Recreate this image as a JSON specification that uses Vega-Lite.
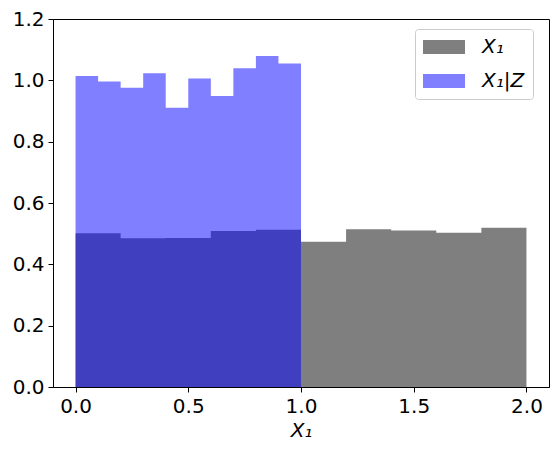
{
  "$schema": "https://vega.github.io/schema/vega-lite/v6.json",
  "width": 496,
  "height": 368,
  "autosize": {"type": "none"},
  "padding": {"left": 53, "top": 19, "right": 9, "bottom": 69},
  "background": "white",
  "config": {
    "view": {"stroke": "black", "strokeWidth": 1},
    "axis": {
      "grid": false,
      "domainColor": "black",
      "tickColor": "black",
      "tickSize": 5,
      "labelFont": "DejaVu Sans",
      "labelFontSize": 20,
      "labelColor": "black",
      "labelPadding": 4,
      "titleFont": "DejaVu Sans",
      "titleFontSize": 20,
      "titleFontWeight": "normal",
      "titleFontStyle": "italic",
      "titleColor": "black"
    }
  },
  "data": {
    "values": [
      {"s": "X₁", "x0": 0.0, "x1": 0.2, "y": 0.501},
      {"s": "X₁", "x0": 0.2, "x1": 0.4, "y": 0.485},
      {"s": "X₁", "x0": 0.4, "x1": 0.6, "y": 0.486},
      {"s": "X₁", "x0": 0.6, "x1": 0.8, "y": 0.509},
      {"s": "X₁", "x0": 0.8, "x1": 1.0, "y": 0.513},
      {"s": "X₁", "x0": 1.0, "x1": 1.2, "y": 0.474},
      {"s": "X₁", "x0": 1.2, "x1": 1.4, "y": 0.514},
      {"s": "X₁", "x0": 1.4, "x1": 1.6, "y": 0.510},
      {"s": "X₁", "x0": 1.6, "x1": 1.8, "y": 0.503},
      {"s": "X₁", "x0": 1.8, "x1": 2.0, "y": 0.519},
      {"s": "X₁|Z", "x0": 0.0, "x1": 0.1, "y": 1.014},
      {"s": "X₁|Z", "x0": 0.1, "x1": 0.2, "y": 0.996},
      {"s": "X₁|Z", "x0": 0.2, "x1": 0.3, "y": 0.976},
      {"s": "X₁|Z", "x0": 0.3, "x1": 0.4, "y": 1.023},
      {"s": "X₁|Z", "x0": 0.4, "x1": 0.5, "y": 0.911},
      {"s": "X₁|Z", "x0": 0.5, "x1": 0.6, "y": 1.006},
      {"s": "X₁|Z", "x0": 0.6, "x1": 0.7, "y": 0.949},
      {"s": "X₁|Z", "x0": 0.7, "x1": 0.8, "y": 1.039},
      {"s": "X₁|Z", "x0": 0.8, "x1": 0.9, "y": 1.079},
      {"s": "X₁|Z", "x0": 0.9, "x1": 1.0, "y": 1.055}
    ]
  },
  "transform": [
    {"fold": ["x0", "x1"], "as": ["edge", "xv"]}
  ],
  "mark": {"type": "area", "opacity": 0.5, "strokeWidth": 0, "interpolate": "linear"},
  "encoding": {
    "x": {
      "field": "xv",
      "type": "quantitative",
      "scale": {"domain": [-0.1, 2.1], "nice": false, "zero": false},
      "axis": {"values": [0, 0.5, 1, 1.5, 2], "format": ".1f", "title": "X₁", "titlePadding": 4}
    },
    "y": {
      "field": "y",
      "type": "quantitative",
      "stack": null,
      "scale": {"domain": [0, 1.2], "nice": false},
      "axis": {"values": [0, 0.2, 0.4, 0.6, 0.8, 1.0, 1.2], "format": ".1f", "title": null}
    },
    "order": [
      {"field": "xv", "type": "quantitative", "sort": "ascending"},
      {"field": "edge", "type": "nominal", "sort": "descending"}
    ],
    "color": {
      "field": "s",
      "type": "nominal",
      "scale": {"domain": ["X₁", "X₁|Z"], "range": ["black", "blue"]},
      "legend": {
        "title": null,
        "orient": "none",
        "legendX": 362,
        "legendY": 10,
        "padding": 8,
        "fillColor": "rgba(255,255,255,0.8)",
        "strokeColor": "#cccccc",
        "cornerRadius": 3,
        "symbolType": "M-1,-0.7H3.2V0.7H-1Z",
        "symbolSize": 400,
        "symbolOpacity": 0.5,
        "symbolStrokeWidth": 0,
        "labelOffset": 39,
        "labelFont": "DejaVu Sans",
        "labelFontSize": 20,
        "labelFontStyle": "italic",
        "labelColor": "black",
        "rowPadding": 14
      }
    }
  }
}
